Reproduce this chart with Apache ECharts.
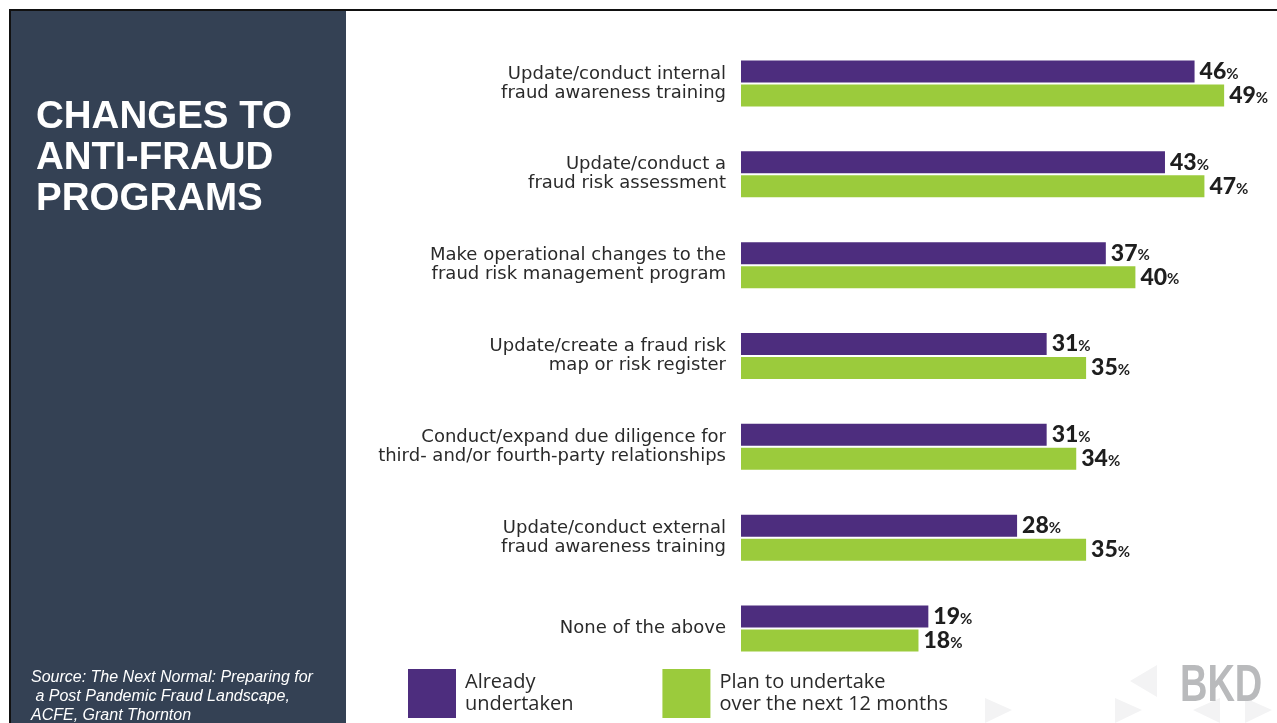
<!DOCTYPE html>
<html>
<head>
<meta charset="utf-8">
<script src="https://cdn.jsdelivr.net/npm/echarts@6/dist/echarts.min.js"></script>
<style>
html,body{margin:0;padding:0;background:#fff;}
#main{width:1277px;height:723px;}
</style>
</head>
<body>
<div id="main"></div>
<script>
const categories = [
  'Update/conduct internal\nfraud awareness training',
  'Update/conduct a\nfraud risk assessment',
  'Make operational changes to the\nfraud risk management program',
  'Update/create a fraud risk\nmap or risk register',
  'Conduct/expand due diligence for\nthird- and/or fourth-party relationships',
  'Update/conduct external\nfraud awareness training',
  'None of the above'
];
const alreadyUndertaken = [46, 43, 37, 31, 31, 28, 19];
const planToUndertake = [49, 47, 40, 35, 34, 35, 18];
const seriesNames = ['Already\nundertaken', 'Plan to undertake\nover the next 12 months'];
const titleLines = 'CHANGES TO\nANTI-FRAUD\nPROGRAMS';
const sourceText = 'Source: The Next Normal: Preparing for\n a Post Pandemic Fraud Landscape,\nACFE, Grant Thornton';

const PURPLE = '#4d2d7e';
const GREEN = '#9bcb3c';

const chart = echarts.init(document.getElementById('main'), null, {renderer: 'canvas'});

const labelCfg = {
  show: true,
  position: 'right',
  distance: 5,
  formatter: p => '{n|' + p.value + '}{p|%}',
  rich: {
    n: {fontFamily: 'Lato', fontWeight: 900, fontSize: 23, color: '#1e1e1e'},
    p: {fontFamily: 'Lato', fontWeight: 'bold', fontSize: 15, color: '#1e1e1e', padding: [5, 0, 0, 0]}
  }
};

const tri = (pts) => ({type: 'polygon', shape: {points: pts}, style: {fill: '#f3f3f4'}, z: 1, silent: true});

chart.setOption({
  animation: false,
  backgroundColor: '#ffffff',
  graphic: [
    {type: 'rect', shape: {x: 9, y: 9, width: 1268, height: 2}, style: {fill: '#111'}, z: 10},
    {type: 'rect', shape: {x: 9, y: 9, width: 2, height: 714}, style: {fill: '#111'}, z: 10},
    {type: 'rect', shape: {x: 11, y: 11, width: 335, height: 712}, style: {fill: '#344154'}, z: 0},
    tri([[1157, 665], [1130, 681], [1157, 697]]),
    tri([[985, 698], [1012, 710], [985, 723]]),
    tri([[1115, 698], [1142, 710], [1115, 723]]),
    tri([[1220, 698], [1193, 710], [1220, 723]]),
    tri([[1245, 698], [1272, 710], [1245, 723]]),
    {type: 'text', left: 36, top: 97, z: 11, style: {text: titleLines, fill: '#ffffff', font: 'bold 38.5px "Liberation Sans", Arial, sans-serif', lineHeight: 41}},
    {type: 'text', left: 31, top: 668, z: 11, style: {text: sourceText, fill: '#ffffff', font: 'italic 16px "Liberation Sans", Arial, sans-serif', lineHeight: 19}},
    {type: 'text', x: 1180, y: 661, scaleX: 0.73, z: 11, style: {text: 'BKD', x: 0, y: 0, fill: '#b9babc', font: 'bold 52px "Liberation Sans", Arial, sans-serif'}}
  ],
  legend: {
    left: 408,
    top: 669,
    padding: 0,
    icon: 'rect',
    itemWidth: 48,
    itemHeight: 49,
    itemGap: 89,
    selectedMode: false,
    textStyle: {fontFamily: 'Open Sans', fontSize: 20, color: '#2a2a2a', lineHeight: 22, padding: [0, 0, 0, 4]},
    data: seriesNames
  },
  grid: {left: 741, right: 43, top: 38, bottom: 49, containLabel: false},
  xAxis: {
    type: 'value', min: 0, max: 50, show: false
  },
  yAxis: {
    type: 'category',
    inverse: true,
    data: categories,
    axisLine: {show: false},
    axisTick: {show: false},
    axisLabel: {fontFamily: 'DejaVu Sans', fontSize: 18, color: '#2a2a2a', lineHeight: 19, margin: 15, align: 'right'}
  },
  series: [
    {name: seriesNames[0], type: 'bar', data: alreadyUndertaken, barWidth: 22, barGap: '9%', itemStyle: {color: PURPLE}, label: labelCfg},
    {name: seriesNames[1], type: 'bar', data: planToUndertake, barWidth: 22, barGap: '9%', itemStyle: {color: GREEN}, label: labelCfg}
  ]
});
</script>
</body>
</html>
